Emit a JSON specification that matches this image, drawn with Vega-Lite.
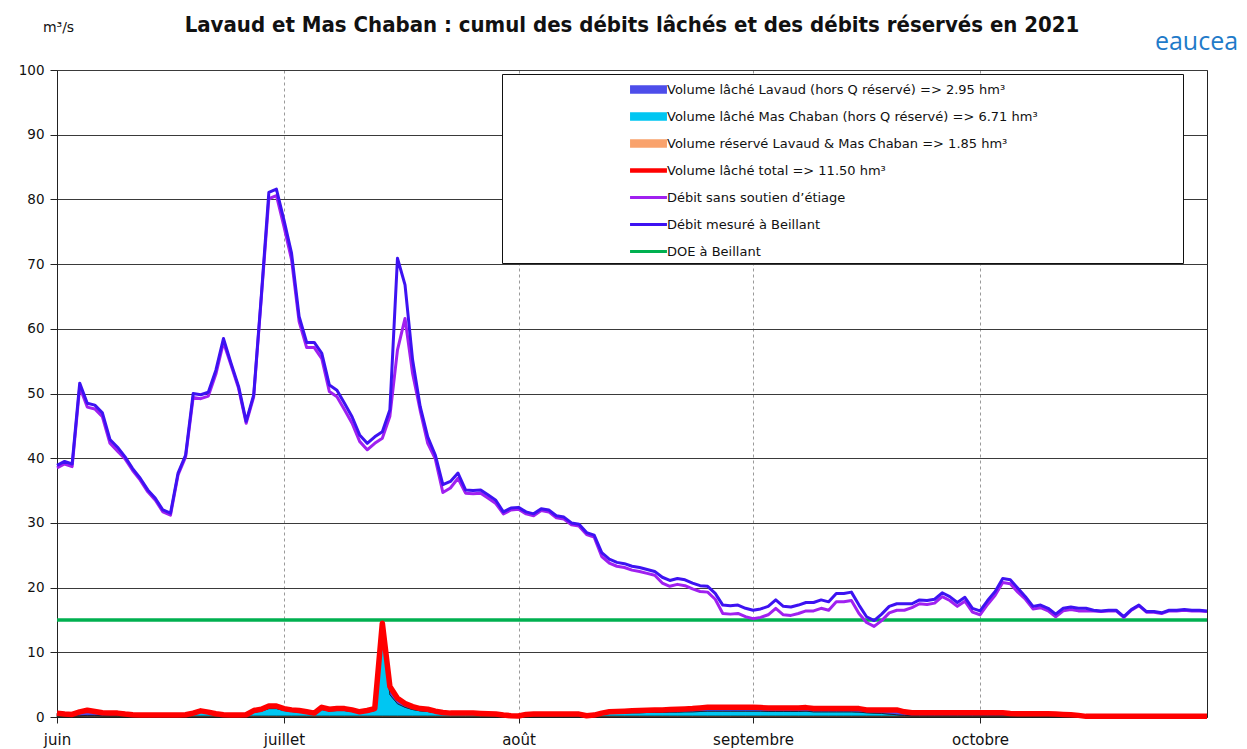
{
"$schema": "https://vega.github.io/schema/vega-lite/v6.json",
"width": 1150, "height": 647,
"autosize": {"type": "none"},
"padding": {"left": 57, "top": 70, "right": 40, "bottom": 32},
"background": "white",
"title": {"text": "Lavaud et Mas Chaban : cumul des débits lâchés et des débits réservés en 2021", "font": "DejaVu Sans Condensed", "fontSize": 22, "fontWeight": "bold", "color": "#111111", "anchor": "middle", "offset": -17},
"data": {"values": [
{"date":"2021-06-01","mes":38.9,"sans":38.5,"tot":0.6,"res":0.15,"mas":0.05,"lav":0.4,"doe":15},
{"date":"2021-06-02","mes":39.5,"sans":39.1,"tot":0.45,"res":0.15,"mas":0.05,"lav":0.25,"doe":15},
{"date":"2021-06-03","mes":39.1,"sans":38.7,"tot":0.4,"res":0.15,"mas":0.05,"lav":0.2,"doe":15},
{"date":"2021-06-04","mes":51.6,"sans":51.0,"tot":0.8,"res":0.15,"mas":0.05,"lav":0.6,"doe":15},
{"date":"2021-06-05","mes":48.5,"sans":47.9,"tot":1.05,"res":0.15,"mas":0.1,"lav":0.8,"doe":15},
{"date":"2021-06-06","mes":48.2,"sans":47.6,"tot":0.85,"res":0.15,"mas":0.1,"lav":0.6,"doe":15},
{"date":"2021-06-07","mes":47.0,"sans":46.4,"tot":0.65,"res":0.15,"mas":0.05,"lav":0.45,"doe":15},
{"date":"2021-06-08","mes":42.9,"sans":42.3,"tot":0.6,"res":0.15,"mas":0.05,"lav":0.4,"doe":15},
{"date":"2021-06-09","mes":41.7,"sans":41.1,"tot":0.6,"res":0.15,"mas":0.05,"lav":0.4,"doe":15},
{"date":"2021-06-10","mes":40.2,"sans":39.9,"tot":0.45,"res":0.15,"mas":0.05,"lav":0.25,"doe":15},
{"date":"2021-06-11","mes":38.4,"sans":38.1,"tot":0.35,"res":0.15,"mas":0.05,"lav":0.15,"doe":15},
{"date":"2021-06-12","mes":36.9,"sans":36.6,"tot":0.3,"res":0.15,"mas":0.05,"lav":0.1,"doe":15},
{"date":"2021-06-13","mes":35.1,"sans":34.8,"tot":0.3,"res":0.15,"mas":0.05,"lav":0.1,"doe":15},
{"date":"2021-06-14","mes":33.8,"sans":33.5,"tot":0.3,"res":0.15,"mas":0.05,"lav":0.1,"doe":15},
{"date":"2021-06-15","mes":32.0,"sans":31.7,"tot":0.3,"res":0.15,"mas":0.05,"lav":0.1,"doe":15},
{"date":"2021-06-16","mes":31.5,"sans":31.2,"tot":0.3,"res":0.15,"mas":0.05,"lav":0.1,"doe":15},
{"date":"2021-06-17","mes":37.7,"sans":37.4,"tot":0.3,"res":0.15,"mas":0.05,"lav":0.1,"doe":15},
{"date":"2021-06-18","mes":40.5,"sans":40.2,"tot":0.35,"res":0.15,"mas":0.1,"lav":0.1,"doe":15},
{"date":"2021-06-19","mes":50.0,"sans":49.4,"tot":0.6,"res":0.15,"mas":0.35,"lav":0.1,"doe":15},
{"date":"2021-06-20","mes":49.8,"sans":49.2,"tot":0.95,"res":0.15,"mas":0.65,"lav":0.15,"doe":15},
{"date":"2021-06-21","mes":50.2,"sans":49.6,"tot":0.75,"res":0.15,"mas":0.45,"lav":0.15,"doe":15},
{"date":"2021-06-22","mes":53.6,"sans":53.0,"tot":0.5,"res":0.15,"mas":0.25,"lav":0.1,"doe":15},
{"date":"2021-06-23","mes":58.5,"sans":57.9,"tot":0.35,"res":0.15,"mas":0.1,"lav":0.1,"doe":15},
{"date":"2021-06-24","mes":54.7,"sans":54.4,"tot":0.3,"res":0.15,"mas":0.05,"lav":0.1,"doe":15},
{"date":"2021-06-25","mes":51.1,"sans":50.8,"tot":0.3,"res":0.15,"mas":0.05,"lav":0.1,"doe":15},
{"date":"2021-06-26","mes":45.7,"sans":45.4,"tot":0.35,"res":0.15,"mas":0.1,"lav":0.1,"doe":15},
{"date":"2021-06-27","mes":49.8,"sans":49.5,"tot":1.0,"res":0.15,"mas":0.6,"lav":0.25,"doe":15},
{"date":"2021-06-28","mes":65.0,"sans":64.7,"tot":1.2,"res":0.15,"mas":0.75,"lav":0.3,"doe":15},
{"date":"2021-06-29","mes":81.1,"sans":80.1,"tot":1.7,"res":0.15,"mas":1.15,"lav":0.4,"doe":15},
{"date":"2021-06-30","mes":81.6,"sans":80.6,"tot":1.7,"res":0.15,"mas":1.15,"lav":0.4,"doe":15},
{"date":"2021-07-01","mes":76.8,"sans":75.8,"tot":1.3,"res":0.15,"mas":0.85,"lav":0.3,"doe":15},
{"date":"2021-07-02","mes":71.7,"sans":70.7,"tot":1.1,"res":0.15,"mas":0.7,"lav":0.25,"doe":15},
{"date":"2021-07-03","mes":61.9,"sans":61.1,"tot":1.0,"res":0.15,"mas":0.6,"lav":0.25,"doe":15},
{"date":"2021-07-04","mes":57.9,"sans":57.1,"tot":0.8,"res":0.15,"mas":0.45,"lav":0.2,"doe":15},
{"date":"2021-07-05","mes":57.9,"sans":57.1,"tot":0.6,"res":0.15,"mas":0.3,"lav":0.15,"doe":15},
{"date":"2021-07-06","mes":56.2,"sans":55.4,"tot":1.5,"res":0.15,"mas":1.0,"lav":0.35,"doe":15},
{"date":"2021-07-07","mes":51.3,"sans":50.3,"tot":1.2,"res":0.15,"mas":0.8,"lav":0.25,"doe":15},
{"date":"2021-07-08","mes":50.5,"sans":49.5,"tot":1.3,"res":0.15,"mas":0.85,"lav":0.3,"doe":15},
{"date":"2021-07-09","mes":48.5,"sans":47.5,"tot":1.3,"res":0.15,"mas":0.85,"lav":0.3,"doe":15},
{"date":"2021-07-10","mes":46.4,"sans":45.4,"tot":1.1,"res":0.15,"mas":0.7,"lav":0.25,"doe":15},
{"date":"2021-07-11","mes":43.6,"sans":42.6,"tot":0.8,"res":0.15,"mas":0.45,"lav":0.2,"doe":15},
{"date":"2021-07-12","mes":42.3,"sans":41.3,"tot":1.0,"res":0.15,"mas":0.6,"lav":0.25,"doe":15},
{"date":"2021-07-13","mes":43.3,"sans":42.3,"tot":1.3,"res":0.15,"mas":0.85,"lav":0.3,"doe":15},
{"date":"2021-07-14","mes":44.1,"sans":43.1,"tot":14.5,"res":0.15,"mas":12.9,"lav":1.45,"doe":15},
{"date":"2021-07-15","mes":47.5,"sans":46.5,"tot":4.7,"res":0.15,"mas":3.3,"lav":1.25,"doe":15},
{"date":"2021-07-16","mes":70.9,"sans":56.7,"tot":2.9,"res":0.15,"mas":1.9,"lav":0.85,"doe":15},
{"date":"2021-07-17","mes":66.8,"sans":61.6,"tot":2.1,"res":0.15,"mas":1.35,"lav":0.6,"doe":15},
{"date":"2021-07-18","mes":55.2,"sans":53.1,"tot":1.6,"res":0.15,"mas":1.0,"lav":0.45,"doe":15},
{"date":"2021-07-19","mes":48.0,"sans":47.4,"tot":1.3,"res":0.15,"mas":0.8,"lav":0.35,"doe":15},
{"date":"2021-07-20","mes":43.3,"sans":42.3,"tot":1.2,"res":0.15,"mas":0.7,"lav":0.35,"doe":15},
{"date":"2021-07-21","mes":40.5,"sans":39.9,"tot":0.9,"res":0.15,"mas":0.5,"lav":0.25,"doe":15},
{"date":"2021-07-22","mes":35.9,"sans":34.7,"tot":0.7,"res":0.15,"mas":0.35,"lav":0.2,"doe":15},
{"date":"2021-07-23","mes":36.4,"sans":35.4,"tot":0.6,"res":0.15,"mas":0.3,"lav":0.15,"doe":15},
{"date":"2021-07-24","mes":37.7,"sans":36.9,"tot":0.6,"res":0.15,"mas":0.3,"lav":0.15,"doe":15},
{"date":"2021-07-25","mes":35.1,"sans":34.6,"tot":0.6,"res":0.15,"mas":0.3,"lav":0.15,"doe":15},
{"date":"2021-07-26","mes":35.0,"sans":34.5,"tot":0.6,"res":0.15,"mas":0.3,"lav":0.15,"doe":15},
{"date":"2021-07-27","mes":35.1,"sans":34.6,"tot":0.55,"res":0.15,"mas":0.25,"lav":0.15,"doe":15},
{"date":"2021-07-28","mes":34.3,"sans":33.8,"tot":0.5,"res":0.15,"mas":0.2,"lav":0.15,"doe":15},
{"date":"2021-07-29","mes":33.5,"sans":33.0,"tot":0.45,"res":0.15,"mas":0.2,"lav":0.1,"doe":15},
{"date":"2021-07-30","mes":31.7,"sans":31.4,"tot":0.3,"res":0.15,"mas":0.1,"lav":0.05,"doe":15},
{"date":"2021-07-31","mes":32.3,"sans":32.0,"tot":0.2,"res":0.15,"mas":0.05,"lav":0.0,"doe":15},
{"date":"2021-08-01","mes":32.4,"sans":32.1,"tot":0.15,"res":0.15,"mas":0.0,"lav":0.0,"doe":15},
{"date":"2021-08-02","mes":31.7,"sans":31.4,"tot":0.4,"res":0.15,"mas":0.15,"lav":0.1,"doe":15},
{"date":"2021-08-03","mes":31.4,"sans":31.1,"tot":0.45,"res":0.15,"mas":0.2,"lav":0.1,"doe":15},
{"date":"2021-08-04","mes":32.2,"sans":31.9,"tot":0.45,"res":0.15,"mas":0.2,"lav":0.1,"doe":15},
{"date":"2021-08-05","mes":32.0,"sans":31.7,"tot":0.45,"res":0.15,"mas":0.2,"lav":0.1,"doe":15},
{"date":"2021-08-06","mes":31.1,"sans":30.8,"tot":0.45,"res":0.15,"mas":0.2,"lav":0.1,"doe":15},
{"date":"2021-08-07","mes":30.9,"sans":30.6,"tot":0.45,"res":0.15,"mas":0.2,"lav":0.1,"doe":15},
{"date":"2021-08-08","mes":30.0,"sans":29.7,"tot":0.45,"res":0.15,"mas":0.2,"lav":0.1,"doe":15},
{"date":"2021-08-09","mes":29.8,"sans":29.5,"tot":0.45,"res":0.15,"mas":0.2,"lav":0.1,"doe":15},
{"date":"2021-08-10","mes":28.5,"sans":28.2,"tot":0.2,"res":0.15,"mas":0.05,"lav":0.0,"doe":15},
{"date":"2021-08-11","mes":28.1,"sans":27.8,"tot":0.3,"res":0.15,"mas":0.1,"lav":0.05,"doe":15},
{"date":"2021-08-12","mes":25.4,"sans":24.8,"tot":0.6,"res":0.15,"mas":0.3,"lav":0.15,"doe":15},
{"date":"2021-08-13","mes":24.4,"sans":23.8,"tot":0.8,"res":0.15,"mas":0.4,"lav":0.25,"doe":15},
{"date":"2021-08-14","mes":23.9,"sans":23.3,"tot":0.85,"res":0.15,"mas":0.45,"lav":0.25,"doe":15},
{"date":"2021-08-15","mes":23.7,"sans":23.1,"tot":0.9,"res":0.15,"mas":0.45,"lav":0.3,"doe":15},
{"date":"2021-08-16","mes":23.3,"sans":22.7,"tot":0.95,"res":0.15,"mas":0.5,"lav":0.3,"doe":15},
{"date":"2021-08-17","mes":23.1,"sans":22.5,"tot":1.0,"res":0.15,"mas":0.5,"lav":0.35,"doe":15},
{"date":"2021-08-18","mes":22.8,"sans":22.2,"tot":1.05,"res":0.15,"mas":0.55,"lav":0.35,"doe":15},
{"date":"2021-08-19","mes":22.5,"sans":21.9,"tot":1.1,"res":0.15,"mas":0.55,"lav":0.4,"doe":15},
{"date":"2021-08-20","mes":21.6,"sans":20.7,"tot":1.1,"res":0.15,"mas":0.55,"lav":0.4,"doe":15},
{"date":"2021-08-21","mes":21.1,"sans":20.2,"tot":1.15,"res":0.15,"mas":0.6,"lav":0.4,"doe":15},
{"date":"2021-08-22","mes":21.4,"sans":20.5,"tot":1.2,"res":0.15,"mas":0.6,"lav":0.45,"doe":15},
{"date":"2021-08-23","mes":21.2,"sans":20.3,"tot":1.25,"res":0.15,"mas":0.65,"lav":0.45,"doe":15},
{"date":"2021-08-24","mes":20.7,"sans":19.8,"tot":1.3,"res":0.15,"mas":0.65,"lav":0.5,"doe":15},
{"date":"2021-08-25","mes":20.3,"sans":19.4,"tot":1.4,"res":0.15,"mas":0.7,"lav":0.55,"doe":15},
{"date":"2021-08-26","mes":20.2,"sans":19.3,"tot":1.5,"res":0.15,"mas":0.75,"lav":0.6,"doe":15},
{"date":"2021-08-27","mes":19.1,"sans":18.2,"tot":1.5,"res":0.15,"mas":0.75,"lav":0.6,"doe":15},
{"date":"2021-08-28","mes":17.3,"sans":16.0,"tot":1.5,"res":0.15,"mas":0.75,"lav":0.6,"doe":15},
{"date":"2021-08-29","mes":17.2,"sans":15.9,"tot":1.5,"res":0.15,"mas":0.75,"lav":0.6,"doe":15},
{"date":"2021-08-30","mes":17.3,"sans":16.0,"tot":1.5,"res":0.15,"mas":0.75,"lav":0.6,"doe":15},
{"date":"2021-08-31","mes":16.8,"sans":15.5,"tot":1.5,"res":0.15,"mas":0.75,"lav":0.6,"doe":15},
{"date":"2021-09-01","mes":16.5,"sans":15.2,"tot":1.5,"res":0.15,"mas":0.75,"lav":0.6,"doe":15},
{"date":"2021-09-02","mes":16.7,"sans":15.4,"tot":1.45,"res":0.15,"mas":0.75,"lav":0.55,"doe":15},
{"date":"2021-09-03","mes":17.1,"sans":15.8,"tot":1.4,"res":0.15,"mas":0.7,"lav":0.55,"doe":15},
{"date":"2021-09-04","mes":18.1,"sans":16.8,"tot":1.4,"res":0.15,"mas":0.7,"lav":0.55,"doe":15},
{"date":"2021-09-05","mes":17.1,"sans":15.8,"tot":1.4,"res":0.15,"mas":0.7,"lav":0.55,"doe":15},
{"date":"2021-09-06","mes":17.0,"sans":15.7,"tot":1.4,"res":0.15,"mas":0.7,"lav":0.55,"doe":15},
{"date":"2021-09-07","mes":17.3,"sans":16.0,"tot":1.4,"res":0.15,"mas":0.7,"lav":0.55,"doe":15},
{"date":"2021-09-08","mes":17.7,"sans":16.4,"tot":1.45,"res":0.15,"mas":0.75,"lav":0.55,"doe":15},
{"date":"2021-09-09","mes":17.7,"sans":16.4,"tot":1.3,"res":0.15,"mas":0.65,"lav":0.5,"doe":15},
{"date":"2021-09-10","mes":18.1,"sans":16.8,"tot":1.3,"res":0.15,"mas":0.65,"lav":0.5,"doe":15},
{"date":"2021-09-11","mes":17.8,"sans":16.5,"tot":1.3,"res":0.15,"mas":0.65,"lav":0.5,"doe":15},
{"date":"2021-09-12","mes":19.1,"sans":17.8,"tot":1.3,"res":0.15,"mas":0.65,"lav":0.5,"doe":15},
{"date":"2021-09-13","mes":19.1,"sans":17.8,"tot":1.3,"res":0.15,"mas":0.65,"lav":0.5,"doe":15},
{"date":"2021-09-14","mes":19.3,"sans":18.0,"tot":1.3,"res":0.15,"mas":0.65,"lav":0.5,"doe":15},
{"date":"2021-09-15","mes":17.3,"sans":16.0,"tot":1.3,"res":0.15,"mas":0.6,"lav":0.55,"doe":15},
{"date":"2021-09-16","mes":15.5,"sans":14.6,"tot":1.1,"res":0.15,"mas":0.5,"lav":0.45,"doe":15},
{"date":"2021-09-17","mes":14.9,"sans":14.0,"tot":1.1,"res":0.15,"mas":0.45,"lav":0.5,"doe":15},
{"date":"2021-09-18","mes":15.9,"sans":14.9,"tot":1.1,"res":0.15,"mas":0.4,"lav":0.55,"doe":15},
{"date":"2021-09-19","mes":17.1,"sans":16.1,"tot":1.1,"res":0.15,"mas":0.3,"lav":0.65,"doe":15},
{"date":"2021-09-20","mes":17.5,"sans":16.5,"tot":1.1,"res":0.15,"mas":0.2,"lav":0.75,"doe":15},
{"date":"2021-09-21","mes":17.5,"sans":16.5,"tot":0.8,"res":0.15,"mas":0.1,"lav":0.55,"doe":15},
{"date":"2021-09-22","mes":17.5,"sans":16.9,"tot":0.65,"res":0.15,"mas":0.05,"lav":0.45,"doe":15},
{"date":"2021-09-23","mes":18.1,"sans":17.5,"tot":0.65,"res":0.15,"mas":0.05,"lav":0.45,"doe":15},
{"date":"2021-09-24","mes":18.0,"sans":17.4,"tot":0.65,"res":0.15,"mas":0.05,"lav":0.45,"doe":15},
{"date":"2021-09-25","mes":18.2,"sans":17.6,"tot":0.65,"res":0.15,"mas":0.05,"lav":0.45,"doe":15},
{"date":"2021-09-26","mes":19.2,"sans":18.6,"tot":0.65,"res":0.15,"mas":0.05,"lav":0.45,"doe":15},
{"date":"2021-09-27","mes":18.6,"sans":18.0,"tot":0.65,"res":0.15,"mas":0.05,"lav":0.45,"doe":15},
{"date":"2021-09-28","mes":17.7,"sans":17.1,"tot":0.65,"res":0.15,"mas":0.05,"lav":0.45,"doe":15},
{"date":"2021-09-29","mes":18.5,"sans":17.9,"tot":0.65,"res":0.15,"mas":0.05,"lav":0.45,"doe":15},
{"date":"2021-09-30","mes":16.8,"sans":16.2,"tot":0.65,"res":0.15,"mas":0.05,"lav":0.45,"doe":15},
{"date":"2021-10-01","mes":16.4,"sans":15.8,"tot":0.65,"res":0.15,"mas":0.05,"lav":0.45,"doe":15},
{"date":"2021-10-02","mes":18.0,"sans":17.4,"tot":0.65,"res":0.15,"mas":0.05,"lav":0.45,"doe":15},
{"date":"2021-10-03","mes":19.4,"sans":18.8,"tot":0.65,"res":0.15,"mas":0.05,"lav":0.45,"doe":15},
{"date":"2021-10-04","mes":21.4,"sans":20.8,"tot":0.65,"res":0.15,"mas":0.05,"lav":0.45,"doe":15},
{"date":"2021-10-05","mes":21.2,"sans":20.6,"tot":0.55,"res":0.15,"mas":0.05,"lav":0.35,"doe":15},
{"date":"2021-10-06","mes":19.9,"sans":19.3,"tot":0.5,"res":0.15,"mas":0.05,"lav":0.3,"doe":15},
{"date":"2021-10-07","mes":18.6,"sans":18.2,"tot":0.5,"res":0.15,"mas":0.05,"lav":0.3,"doe":15},
{"date":"2021-10-08","mes":17.1,"sans":16.7,"tot":0.5,"res":0.15,"mas":0.05,"lav":0.3,"doe":15},
{"date":"2021-10-09","mes":17.3,"sans":16.9,"tot":0.5,"res":0.15,"mas":0.05,"lav":0.3,"doe":15},
{"date":"2021-10-10","mes":16.8,"sans":16.4,"tot":0.5,"res":0.15,"mas":0.05,"lav":0.3,"doe":15},
{"date":"2021-10-11","mes":15.9,"sans":15.5,"tot":0.45,"res":0.15,"mas":0.05,"lav":0.25,"doe":15},
{"date":"2021-10-12","mes":16.8,"sans":16.4,"tot":0.4,"res":0.15,"mas":0.05,"lav":0.2,"doe":15},
{"date":"2021-10-13","mes":17.0,"sans":16.6,"tot":0.35,"res":0.15,"mas":0.05,"lav":0.15,"doe":15},
{"date":"2021-10-14","mes":16.8,"sans":16.4,"tot":0.25,"res":0.15,"mas":0.0,"lav":0.1,"doe":15},
{"date":"2021-10-15","mes":16.8,"sans":16.4,"tot":0.1,"res":0.05,"mas":0.0,"lav":0.05,"doe":15},
{"date":"2021-10-16","mes":16.5,"sans":16.4,"tot":0.1,"res":0.05,"mas":0.0,"lav":0.05,"doe":15},
{"date":"2021-10-17","mes":16.4,"sans":16.3,"tot":0.1,"res":0.05,"mas":0.0,"lav":0.05,"doe":15},
{"date":"2021-10-18","mes":16.5,"sans":16.4,"tot":0.1,"res":0.05,"mas":0.0,"lav":0.05,"doe":15},
{"date":"2021-10-19","mes":16.5,"sans":16.4,"tot":0.1,"res":0.05,"mas":0.0,"lav":0.05,"doe":15},
{"date":"2021-10-20","mes":15.5,"sans":15.4,"tot":0.1,"res":0.05,"mas":0.0,"lav":0.05,"doe":15},
{"date":"2021-10-21","mes":16.6,"sans":16.5,"tot":0.1,"res":0.05,"mas":0.0,"lav":0.05,"doe":15},
{"date":"2021-10-22","mes":17.3,"sans":17.2,"tot":0.1,"res":0.05,"mas":0.0,"lav":0.05,"doe":15},
{"date":"2021-10-23","mes":16.3,"sans":16.2,"tot":0.1,"res":0.05,"mas":0.0,"lav":0.05,"doe":15},
{"date":"2021-10-24","mes":16.3,"sans":16.2,"tot":0.1,"res":0.05,"mas":0.0,"lav":0.05,"doe":15},
{"date":"2021-10-25","mes":16.1,"sans":16.0,"tot":0.1,"res":0.05,"mas":0.0,"lav":0.05,"doe":15},
{"date":"2021-10-26","mes":16.5,"sans":16.4,"tot":0.1,"res":0.05,"mas":0.0,"lav":0.05,"doe":15},
{"date":"2021-10-27","mes":16.5,"sans":16.4,"tot":0.1,"res":0.05,"mas":0.0,"lav":0.05,"doe":15},
{"date":"2021-10-28","mes":16.6,"sans":16.5,"tot":0.1,"res":0.05,"mas":0.0,"lav":0.05,"doe":15},
{"date":"2021-10-29","mes":16.5,"sans":16.4,"tot":0.1,"res":0.05,"mas":0.0,"lav":0.05,"doe":15},
{"date":"2021-10-30","mes":16.5,"sans":16.4,"tot":0.1,"res":0.05,"mas":0.0,"lav":0.05,"doe":15},
{"date":"2021-10-31","mes":16.4,"sans":16.3,"tot":0.1,"res":0.05,"mas":0.0,"lav":0.05,"doe":15}
]},
"encoding": {
  "x": {"field": "date", "type": "temporal",
    "scale": {"type": "utc", "domain": [{"year": 2021, "month": 6, "date": 1, "utc": true}, {"year": 2021, "month": 10, "date": 31, "utc": true}]},
    "axis": {
      "values": [{"year": 2021, "month": 6, "date": 1, "utc": true}, {"year": 2021, "month": 7, "date": 1, "utc": true}, {"year": 2021, "month": 8, "date": 1, "utc": true}, {"year": 2021, "month": 9, "date": 1, "utc": true}, {"year": 2021, "month": 10, "date": 1, "utc": true}],
      "labelExpr": "['janvier','février','mars','avril','mai','juin','juillet','août','septembre','octobre','novembre','décembre'][utcmonth(datum.value)]",
      "grid": true, "gridDash": [3, 3], "gridColor": "#9a9a9a", "gridWidth": 1,
      "tickColor": "#222222", "tickSize": 6, "domainColor": "#222222",
      "labelFont": "DejaVu Sans", "labelFontSize": 15, "labelColor": "#111111", "labelPadding": 9, "labelFlush": false, "labelOverlap": false,
      "title": "eaucea", "titleX": 1139, "titleY": -676, "titleAlign": "center", "titleBaseline": "middle",
      "titleColor": "#1f7bc9", "titleFont": "Open Sans", "titleFontSize": 25, "titleFontWeight": "normal"
    }
  }
},
"layer": [
  {
    "transform": [{"fold": ["res", "mas", "lav"], "as": ["serie", "val"]}],
    "mark": {"type": "area", "stroke": "#111111", "strokeWidth": 0.7, "opacity": 1},
    "encoding": {
      "y": {"field": "val", "type": "quantitative", "stack": "zero", "title": "m³/s", "scale": {"domain": [0, 100], "nice": false}},
      "order": {"field": "serie", "type": "nominal", "sort": "descending"},
      "color": {"field": "serie", "type": "nominal",
        "scale": {"domain": ["lav", "mas", "res", "tot", "sans", "mes", "doe"], "range": ["#4d4dea", "#00c6f2", "#f9a26c", "#ff0000", "#a020f0", "#3d12f2", "#00b050"]},
        "legend": {
          "orient": "none", "legendX": 445, "legendY": 4,
          "title": "\u00a0", "titleOrient": "right", "titlePadding": 141, "titleFontSize": 1,
          "padding": 4, "symbolSize": 441, "rowPadding": 8, "symbolOffset": 131, "labelOffset": 7,
          "symbolOpacity": 1, "symbolStrokeWidth": 1.5,
          "labelExpr": "datum.value == 'lav' ? 'Volume lâché Lavaud (hors Q réservé) => 2.95 hm³' : datum.value == 'mas' ? 'Volume lâché Mas Chaban (hors Q réservé) => 6.71 hm³' : datum.value == 'res' ? 'Volume réservé Lavaud & Mas Chaban => 1.85 hm³' : datum.value == 'tot' ? 'Volume lâché total => 11.50 hm³' : datum.value == 'sans' ? 'Débit sans soutien d’étiage' : datum.value == 'mes' ? 'Débit mesuré à Beillant' : 'DOE à Beillant'",
          "labelFont": "DejaVu Sans", "labelFontSize": 13, "labelColor": "#111111", "labelLimit": 800,
          "fillColor": "white", "strokeColor": "#111111"
        }
      }
    }
  },
  {
    "mark": {"type": "line", "strokeWidth": 3.5},
    "encoding": {
      "y": {"field": "doe", "type": "quantitative", "title": "m³/s", "scale": {"domain": [0, 100], "nice": false}},
      "color": {"datum": "doe"}
    }
  },
  {
    "mark": {"type": "line", "strokeWidth": 5.5, "strokeJoin": "round"},
    "encoding": {
      "y": {"field": "tot", "type": "quantitative", "title": "m³/s", "scale": {"domain": [0, 100], "nice": false}},
      "color": {"datum": "tot"}
    }
  },
  {
    "mark": {"type": "line", "strokeWidth": 3, "strokeJoin": "round"},
    "encoding": {
      "y": {"field": "sans", "type": "quantitative", "title": "m³/s", "scale": {"domain": [0, 100], "nice": false}},
      "color": {"datum": "sans"}
    }
  },
  {
    "mark": {"type": "line", "strokeWidth": 3, "strokeJoin": "round"},
    "encoding": {
      "y": {"field": "mes", "type": "quantitative", "title": "m³/s", "scale": {"domain": [0, 100], "nice": false}},
      "color": {"datum": "mes"}
    }
  },
  {
    "mark": {"type": "point", "opacity": 0, "size": 0},
    "encoding": {
      "y": {"field": "doe", "type": "quantitative", "title": "m³/s", "scale": {"domain": [0, 100], "nice": false}},
      "shape": {"datum": "doe",
        "scale": {"domain": ["lav", "mas", "res", "tot", "sans", "mes", "doe"], "range": ["M-1.686,-0.33H1.686V0.33H-1.686Z", "M-1.686,-0.33H1.686V0.33H-1.686Z", "M-1.686,-0.33H1.686V0.33H-1.686Z", "M-1.686,-0.14H1.686V0.14H-1.686Z", "M-1.686,-0.08H1.686V0.08H-1.686Z", "M-1.686,-0.08H1.686V0.08H-1.686Z", "M-1.686,-0.08H1.686V0.08H-1.686Z"]},
        "legend": {
          "orient": "none", "legendX": 445, "legendY": 4,
          "title": "\u00a0", "titleOrient": "right", "titlePadding": 141, "titleFontSize": 1,
          "padding": 4, "symbolSize": 441, "rowPadding": 8, "symbolOffset": 131, "labelOffset": 7,
          "symbolOpacity": 1, "symbolStrokeWidth": 1.5,
          "labelExpr": "datum.value == 'lav' ? 'Volume lâché Lavaud (hors Q réservé) => 2.95 hm³' : datum.value == 'mas' ? 'Volume lâché Mas Chaban (hors Q réservé) => 6.71 hm³' : datum.value == 'res' ? 'Volume réservé Lavaud & Mas Chaban => 1.85 hm³' : datum.value == 'tot' ? 'Volume lâché total => 11.50 hm³' : datum.value == 'sans' ? 'Débit sans soutien d’étiage' : datum.value == 'mes' ? 'Débit mesuré à Beillant' : 'DOE à Beillant'",
          "labelFont": "DejaVu Sans", "labelFontSize": 13, "labelColor": "#111111", "labelLimit": 800,
          "fillColor": "white", "strokeColor": "#111111"
        }
      }
    }
  }
],
"config": {
  "view": {"stroke": "#222222", "strokeWidth": 1},
  "axisY": {
    "grid": true, "gridColor": "#3a3a3a", "gridWidth": 1, "tickCount": 10,
    "tickSize": 7, "tickColor": "#222222", "domainColor": "#222222",
    "labelFont": "DejaVu Sans", "labelFontSize": 13.5, "labelColor": "#111111", "labelPadding": 6,
    "titleAngle": 0, "titleX": 1, "titleY": -43, "titleAlign": "center", "titleBaseline": "middle",
    "titleFont": "DejaVu Sans", "titleFontSize": 14, "titleFontWeight": "normal", "titleColor": "#111111"
  }
}
}
